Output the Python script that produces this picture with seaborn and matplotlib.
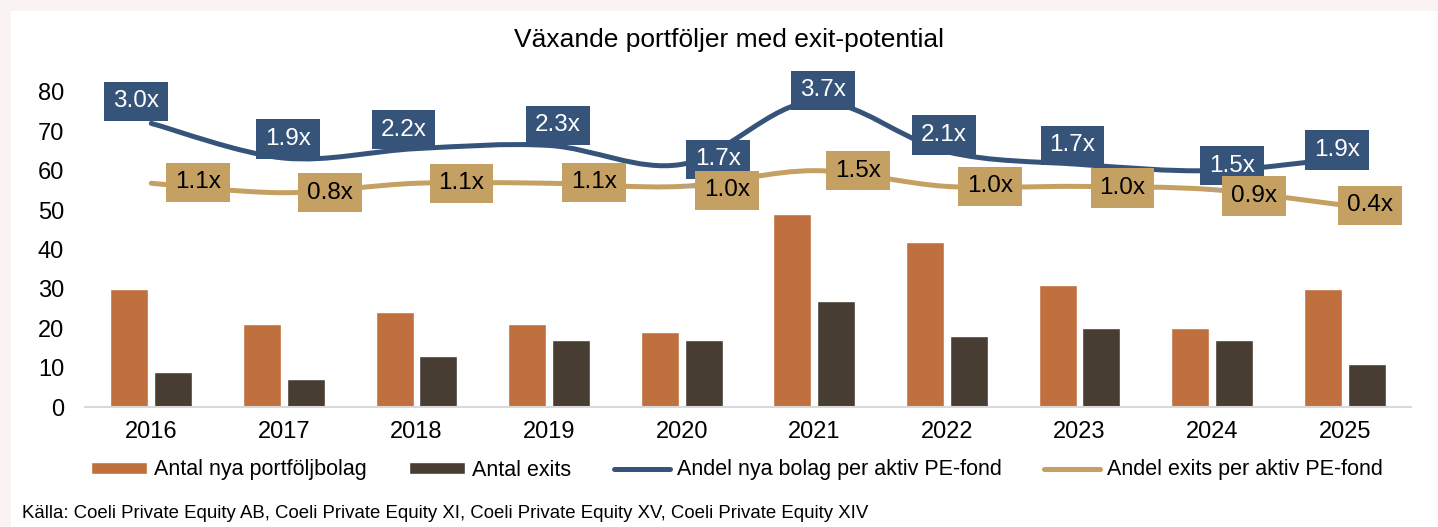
import matplotlib
matplotlib.use('Agg')
import matplotlib.pyplot as plt
import seaborn as sns
import pandas as pd
from matplotlib.path import Path
from matplotlib.patches import PathPatch, Patch, Rectangle
from matplotlib.lines import Line2D

# --- data ---
years = ['2016', '2017', '2018', '2019', '2020', '2021', '2022', '2023', '2024', '2025']
nya_bolag = [30, 21, 24, 21, 19, 49, 42, 31, 20, 30]
exits = [9, 7, 13, 17, 17, 27, 18, 20, 17, 11]
andel_nya = [3.0, 1.9, 2.2, 2.3, 1.7, 3.7, 2.1, 1.7, 1.5, 1.9]
andel_exits = [1.1, 0.8, 1.1, 1.1, 1.0, 1.5, 1.0, 1.0, 0.9, 0.4]
series_names = ['Antal nya portföljbolag', 'Antal exits',
                'Andel nya bolag per aktiv PE-fond', 'Andel exits per aktiv PE-fond']
title = 'Växande portföljer med exit-potential'
source = 'Källa: Coeli Private Equity AB, Coeli Private Equity XI, Coeli Private Equity XV, Coeli Private Equity XIV'

# label offsets in pixels (dx, dy) relative to each point
offs_nya = [(-15, 22), (4, 19), (-13, 19), (9, 20), (36, 5), (9, 11), (-3, 17), (-7, 19), (20, 5), (-8, 8)]
offs_exits = [(47, 1), (46, 0), (45, 0), (45, 1), (45, -4), (44, 0), (43, 0), (43, -1.5), (42, -6.5), (25, 0)]
leader = [4, 8]

c_orange = '#C0703E'
c_brown = '#473D33'
c_blue = '#36547A'
c_gold = '#C5A063'

sns.set_theme(style='white')
plt.rcParams['font.family'] = ['Liberation Sans', 'DejaVu Sans']

W, H = 1438, 527
fig = plt.figure(figsize=(W / 100, H / 100), dpi=100)
fig.patch.set_facecolor('#F9F4F1')
fig.patches.append(Rectangle((11 / W, 0), 1, 1 - 11 / H, transform=fig.transFigure,
                             facecolor='white', edgecolor='none', zorder=-10))

ax = fig.add_axes([85 / W, 1 - 407 / H, 1326 / W, 323 / H])
ax.set_facecolor('none')

df = pd.DataFrame({
    'år': years * 2,
    'antal': nya_bolag + exits,
    'serie': [series_names[0]] * len(years) + [series_names[1]] * len(years),
})
sns.barplot(data=df, x='år', y='antal', hue='serie', palette=[c_orange, c_brown],
            width=0.663, gap=0.136, saturation=1, legend=False, ax=ax)

ax.set_xlim(-0.5, len(years) - 0.5)
ax.set_ylim(0, 82)
ax.set_yticks(range(0, 81, 10))
ax.set_xlabel('')
ax.set_ylabel('')
for s in ['top', 'right', 'left']:
    ax.spines[s].set_visible(False)
ax.spines['bottom'].set_color('#D9D9D9')
ax.spines['bottom'].set_linewidth(1.5)
ax.tick_params(axis='y', length=0, labelsize=17, pad=15, labelcolor='black')
ax.tick_params(axis='x', length=0, labelsize=17, pad=10, labelcolor='black')

# hidden secondary axis for the ratio lines
ax2 = ax.twinx()
ax2.set_ylim(-6, 4.25)
ax2.axis('off')


def smooth_path(vals):
    # Bezier curve through the points, like Excel's smoothed line
    pts = list(zip(range(len(vals)), vals))
    verts = [pts[0]]
    codes = [Path.MOVETO]
    for i in range(len(pts) - 1):
        p0 = pts[max(i - 1, 0)]
        p1 = pts[i]
        p2 = pts[i + 1]
        p3 = pts[min(i + 2, len(pts) - 1)]
        c1 = (p1[0] + (p2[0] - p0[0]) / 6, p1[1] + (p2[1] - p0[1]) / 6)
        c2 = (p2[0] - (p3[0] - p1[0]) / 6, p2[1] - (p3[1] - p1[1]) / 6)
        verts += [c1, c2, p2]
        codes += [Path.CURVE4] * 3
    return Path(verts, codes)


for vals, col in [(andel_nya, c_blue), (andel_exits, c_gold)]:
    ax2.add_patch(PathPatch(smooth_path(vals), facecolor='none', edgecolor=col,
                            lw=3.6, capstyle='round', joinstyle='round', zorder=3))


def label_box(x0, y0, width, height, mutation_size):
    px, py = 0.37 * mutation_size, 0.36 * mutation_size
    return Path([(x0 - px, y0 - py), (x0 + width + px, y0 - py),
                 (x0 + width + px, y0 + height + py), (x0 - px, y0 + height + py),
                 (x0 - px, y0 - py)], closed=True)


for vals, offs, fc, tc, z in [(andel_nya, offs_nya, c_blue, 'white', 5),
                              (andel_exits, offs_exits, c_gold, 'black', 6)]:
    for i, v in enumerate(vals):
        arrow = None
        if fc == c_gold and i in leader:
            arrow = dict(arrowstyle='-', color='#A6A6A6', lw=1.2, shrinkA=0, shrinkB=0)
        ax2.annotate(f'{v:.1f}x', xy=(i, v), xytext=offs[i], textcoords='offset pixels',
                     ha='center', va='center', fontsize=17.5, color=tc, zorder=z,
                     bbox=dict(boxstyle=label_box, fc=fc, ec='none'),
                     arrowprops=arrow, annotation_clip=False)

fig.text(728.5 / W, 1 - 40 / H, title, ha='center', va='center', fontsize=19, color='black')

handles = [Patch(facecolor=c_orange), Patch(facecolor=c_brown),
           Line2D([0], [0], color=c_blue, lw=3.6, solid_capstyle='round'),
           Line2D([0], [0], color=c_gold, lw=3.6, solid_capstyle='round')]
fig.legend(handles, series_names, loc='center', bbox_to_anchor=(737 / W, 1 - 470 / H),
           ncol=4, frameon=False, fontsize=15.5, handlelength=2.6, handleheight=0.5,
           handletextpad=0.3, columnspacing=2.0, labelcolor='black')

fig.text(22 / W, 1 - 513 / H, source, ha='left', va='center', fontsize=13.4, color='black')

fig.savefig('out.png', dpi=100, facecolor=fig.get_facecolor())
